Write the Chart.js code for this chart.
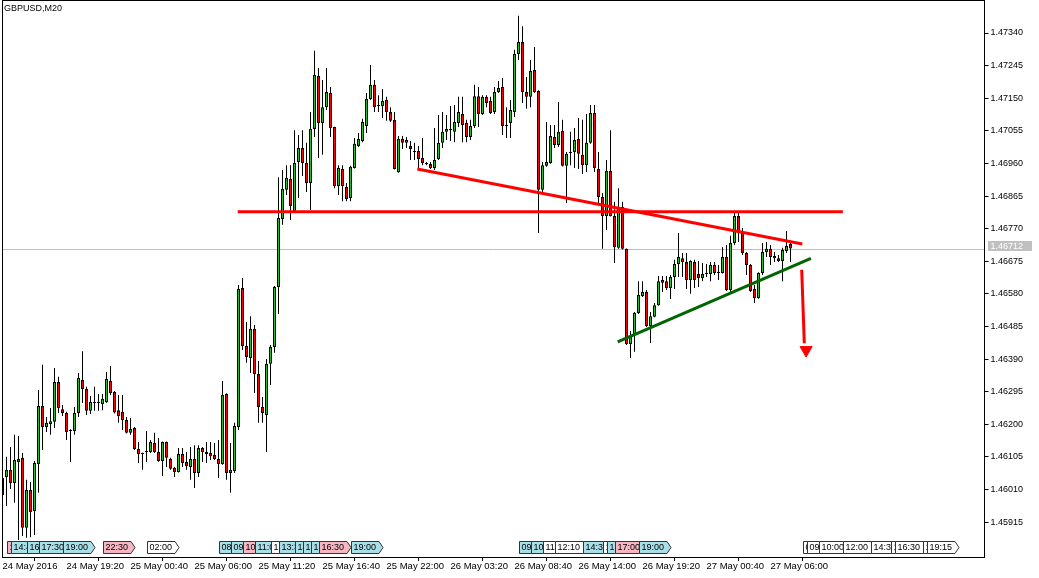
<!DOCTYPE html>
<html>
<head>
<meta charset="utf-8">
<script src="https://cdn.jsdelivr.net/npm/chart.js@4/dist/chart.umd.min.js"></script>
<style>
  html, body { margin: 0; padding: 0; background: #fff; }
  canvas { display: block; }
</style>
</head>
<body>
<canvas id="chart" width="1039" height="578"></canvas>
<script>
// GBPUSD M20 candles, bar 0 = 24 May 2016 14:00 (partly hidden at the left edge)
const opens = [1.46043,
  1.46046,1.46067,1.46029,1.46090,1.46102,1.45898,1.46008,1.45947,1.46084,1.46253,
  1.46192,1.46201,1.46207,1.46323,1.46244,1.46233,1.46180,1.46180,1.46233,1.46329,
  1.46303,1.46239,1.46262,1.46262,1.46259,1.46265,1.46326,1.46294,1.46241,1.46236,
  1.46212,1.46175,1.46189,1.46128,1.46116,1.46122,1.46119,1.46145,1.46119,1.46093,
  1.46148,1.46099,1.46073,1.46061,1.46113,1.46090,1.46075,1.46099,1.46058,1.46131,
  1.46119,1.46116,1.46110,1.46099,1.46084,1.46288,1.46058,1.46064,1.46192,1.46597,
  1.46428,1.46393,1.46478,1.46346,1.46250,1.46227,1.46376,1.46425,1.46600,1.46798,
  1.46883,1.46915,1.46819,1.46964,1.47005,1.46961,1.46903,1.47060,1.47215,1.47078,
  1.47124,1.47165,1.47066,1.46894,1.46944,1.46891,1.46859,1.46947,1.47011,1.47025,
  1.47069,1.47148,1.47189,1.47127,1.47127,1.47145,1.47110,1.47087,1.46935,1.47031,
  1.47020,1.47011,1.46996,1.46996,1.46976,1.46961,1.46958,1.46947,1.46973,1.47020,
  1.47052,1.47057,1.47052,1.47078,1.47104,1.47078,1.47037,1.47069,1.47156,1.47104,
  1.47154,1.47142,1.47110,1.47168,1.47183,1.47072,1.47078,1.47110,1.47279,1.47314,
  1.47168,1.47154,1.47232,1.47171,1.46883,1.46953,1.46961,1.47037,1.47014,1.47055,
  1.46953,1.46990,1.46993,1.47031,1.46985,1.46955,1.47020,1.47107,1.46944,1.46862,
  1.46807,1.46938,1.46807,1.46714,1.46833,1.46711,1.46434,1.46460,1.46524,1.46574,
  1.46585,1.46486,1.46513,1.46547,1.46620,1.46617,1.46597,1.46629,1.46667,1.46684,
  1.46673,1.46620,1.46673,1.46638,1.46626,1.46638,1.46638,1.46664,1.46644,1.46641,
  1.46687,1.46591,1.46728,1.46807,1.46757,1.46699,1.46664,1.46594,1.46568,1.46641,
  1.46702,1.46711,1.46690,1.46684,1.46676,1.46705,1.46725];

const highs = [1.46046,
  1.46105,1.46134,1.46169,1.46166,1.46116,1.46038,1.46032,1.46093,1.46300,1.46373,
  1.46221,1.46247,1.46364,1.46338,1.46256,1.46236,1.46185,1.46250,1.46349,1.46413,
  1.46309,1.46282,1.46309,1.46288,1.46288,1.46352,1.46370,1.46297,1.46285,1.46285,
  1.46221,1.46218,1.46192,1.46148,1.46117,1.46180,1.46154,1.46175,1.46160,1.46150,
  1.46150,1.46102,1.46075,1.46131,1.46131,1.46119,1.46134,1.46139,1.46139,1.46134,
  1.46148,1.46148,1.46145,1.46154,1.46326,1.46290,1.46145,1.46204,1.46606,1.46626,
  1.46498,1.46515,1.46489,1.46384,1.46279,1.46390,1.46431,1.46603,1.46920,1.46941,
  1.46955,1.46955,1.47057,1.47043,1.47057,1.47020,1.47110,1.47288,1.47238,1.47203,
  1.47238,1.47183,1.47067,1.46955,1.46955,1.46903,1.46953,1.47034,1.47049,1.47090,
  1.47165,1.47247,1.47203,1.47159,1.47177,1.47154,1.47124,1.47110,1.47040,1.47040,
  1.47037,1.47025,1.47020,1.47011,1.47034,1.46964,1.46964,1.47063,1.47101,1.47110,
  1.47101,1.47127,1.47130,1.47154,1.47154,1.47087,1.47087,1.47189,1.47183,1.47159,
  1.47159,1.47154,1.47183,1.47200,1.47209,1.47124,1.47145,1.47291,1.47390,1.47360,
  1.47212,1.47261,1.47299,1.47173,1.46964,1.47081,1.47072,1.47072,1.47139,1.47087,
  1.46993,1.47052,1.47063,1.47092,1.47087,1.47104,1.47130,1.47130,1.46993,1.46874,
  1.46970,1.47057,1.46848,1.46888,1.46848,1.46712,1.46472,1.46527,1.46617,1.46617,
  1.46591,1.46527,1.46553,1.46632,1.46632,1.46632,1.46635,1.46679,1.46757,1.46699,
  1.46699,1.46678,1.46679,1.46676,1.46670,1.46667,1.46673,1.46673,1.46664,1.46716,
  1.46722,1.46749,1.46816,1.46816,1.46772,1.46702,1.46667,1.46606,1.46643,1.46728,
  1.46731,1.46722,1.46702,1.46693,1.46714,1.46763,1.46728];

const lows = [1.45991,
  1.45962,1.46011,1.45971,1.45863,1.45874,1.45869,1.45871,1.45877,1.46000,1.46125,
  1.46177,1.46169,1.46189,1.46233,1.46224,1.46154,1.46090,1.46169,1.46221,1.46262,
  1.46227,1.46230,1.46239,1.46239,1.46241,1.46262,1.46285,1.46231,1.46204,1.46183,
  1.46173,1.46169,1.46125,1.46087,1.46067,1.46090,1.46116,1.46116,1.46091,1.46049,
  1.46075,1.46067,1.46046,1.46059,1.46075,1.46067,1.46038,1.46014,1.46046,1.46090,
  1.46087,1.46096,1.46096,1.46043,1.46082,1.46038,1.46000,1.46058,1.46183,1.46416,
  1.46379,1.46349,1.46291,1.46204,1.46204,1.46119,1.46314,1.46408,1.46521,1.46781,
  1.46868,1.46795,1.46816,1.46859,1.46923,1.46877,1.46824,1.47037,1.46976,1.46985,
  1.47116,1.47037,1.46888,1.46868,1.46850,1.46850,1.46850,1.46945,1.47008,1.47022,
  1.47049,1.47145,1.47110,1.47110,1.47092,1.47084,1.47081,1.46942,1.46933,1.47002,
  1.47005,1.46970,1.46970,1.46941,1.46955,1.46955,1.46944,1.46941,1.46970,1.47005,
  1.47028,1.47025,1.47022,1.47066,1.47022,1.47022,1.47028,1.47063,1.47066,1.47101,
  1.47124,1.47104,1.47104,1.47165,1.47043,1.47034,1.47034,1.47095,1.47261,1.47136,
  1.47119,1.47124,1.47166,1.46757,1.46877,1.46950,1.46959,1.47005,1.47008,1.46951,
  1.46845,1.46955,1.46947,1.46944,1.46929,1.46935,1.47017,1.46935,1.46839,1.46711,
  1.46766,1.46805,1.46670,1.46711,1.46709,1.46431,1.46393,1.46411,1.46521,1.46571,
  1.46483,1.46437,1.46512,1.46545,1.46585,1.46591,1.46565,1.46594,1.46629,1.46629,
  1.46594,1.46580,1.46597,1.46600,1.46617,1.46629,1.46617,1.46635,1.46620,1.46639,
  1.46588,1.46585,1.46722,1.46731,1.46693,1.46635,1.46585,1.46553,1.46566,1.46635,
  1.46687,1.46664,1.46673,1.46673,1.46617,1.46699,1.46673];

const closes = [1.45994,
  1.46067,1.46029,1.46096,1.46099,1.45898,1.46008,1.45944,1.46087,1.46253,1.46192,
  1.46204,1.46209,1.46323,1.46247,1.46233,1.46177,1.46183,1.46233,1.46335,1.46303,
  1.46239,1.46265,1.46265,1.46265,1.46274,1.46332,1.46291,1.46234,1.46224,1.46212,
  1.46175,1.46186,1.46128,1.46113,1.46113,1.46119,1.46148,1.46119,1.46093,1.46148,
  1.46102,1.46070,1.46061,1.46113,1.46087,1.46078,1.46099,1.46058,1.46131,1.46119,
  1.46113,1.46107,1.46099,1.46084,1.46285,1.46058,1.46067,1.46195,1.46594,1.46428,
  1.46396,1.46478,1.46346,1.46250,1.46233,1.46376,1.46425,1.46600,1.46801,1.46886,
  1.46918,1.46836,1.46961,1.47005,1.46961,1.46903,1.47060,1.47218,1.47078,1.47124,
  1.47168,1.47063,1.46894,1.46947,1.46894,1.46856,1.46950,1.47017,1.47031,1.47081,
  1.47148,1.47189,1.47124,1.47130,1.47142,1.47110,1.47084,1.46944,1.47031,1.47020,
  1.47028,1.47002,1.46993,1.46973,1.46961,1.46958,1.46947,1.46970,1.47020,1.47052,
  1.47060,1.47060,1.47081,1.47110,1.47072,1.47037,1.47069,1.47156,1.47104,1.47154,
  1.47136,1.47107,1.47168,1.47180,1.47069,1.47069,1.47116,1.47279,1.47314,1.47168,
  1.47154,1.47229,1.47168,1.46883,1.46955,1.46964,1.47040,1.47014,1.47052,1.46953,
  1.46988,1.46993,1.47028,1.46988,1.46955,1.47020,1.47107,1.46947,1.46862,1.46807,
  1.46938,1.46807,1.46716,1.46833,1.46711,1.46434,1.46457,1.46524,1.46577,1.46585,
  1.46486,1.46515,1.46547,1.46617,1.46612,1.46597,1.46629,1.46667,1.46687,1.46673,
  1.46620,1.46676,1.46620,1.46626,1.46638,1.46641,1.46664,1.46641,1.46641,1.46687,
  1.46591,1.46728,1.46807,1.46757,1.46699,1.46664,1.46588,1.46568,1.46641,1.46702,
  1.46711,1.46687,1.46684,1.46676,1.46708,1.46719,1.46712];

// axes
const yTicks = [1.45915,1.46010,1.46105,1.46200,1.46295,1.46390,1.46485,1.46580,
                1.46675,1.46770,1.46865,1.46960,1.47055,1.47150,1.47245,1.47340];
const tickLabels = ['24 May 2016','24 May 19:20','25 May 00:40','25 May 06:00','25 May 11:20',
  '25 May 16:40','25 May 22:00','26 May 03:20','26 May 08:40','26 May 14:00',
  '26 May 19:20','27 May 00:40','27 May 06:00'];
const barsPerTick = 16;
const lastPrice = 1.46712;

// drawn objects: [bar index, price]
const levelLine = [[58.8, 1.46819], [210.1, 1.46819]];
const upperTrend = [[103.7, 1.46944], [199.95, 1.46725]];
const lowerTrend = [[153.8, 1.46440], [202.1, 1.46683]];
const arrowShaft = [[199.8, 1.46650], [200.45, 1.46436]];
const arrowHead = [[200.9, 1.46416]];

// calendar events along the bottom: bar index, time text, colour kind
const eventBars = [1,2,6,9,15,25,36,54,57,60,63,67,69,73,75,77,79,87,
  129,132,135,138,145,150,151,153,159,200,201,204,210,217,222,223,230,231];
const eventTexts = ['14:15','14:45','16:00','17:30','19:00','22:30','02:00','08:00','09:00','10:00',
  '11:00','12:30','13:30','14:30','15:00','15:45','16:30','19:00','09:00','10:00','11:00','12:10',
  '14:30','16:00','16:15','17:00','19:00','08:30','09:00','10:00','12:00','14:30','16:00','16:30',
  '18:45','19:15'];
const eventKinds = ['p','c','c','c','c','p','w','c','c','p','c','w','c','c','c','c','p','c',
  'c','c','w','w','c','w','c','p','c','w','w','w','w','w','w','w','w','w'];

const FONT = 'Liberation Sans, Arial, sans-serif';
const BULL = '#22c322';
const BEAR = '#ff0000';
const EVENT_FILL = { c: '#a8dfe9', p: '#f7b6c1', w: '#ffffff' };

const toPts = arr => arr.map(([x, y]) => ({ x, y }));

const wicks = lows.map((l, i) => ({ x: i, y: [l, highs[i]] }));
const bodies = opens.map((o, i) => ({ x: i, y: [o, closes[i]] }));

const overlay = {
  id: 'overlay',
  beforeDatasetsDraw(chart) {
    const { ctx, chartArea: a, scales } = chart;
    const y = Math.round(scales.y.getPixelForValue(lastPrice)) + 0.5;
    ctx.save();
    ctx.strokeStyle = '#c0c0c0';
    ctx.lineWidth = 1;
    ctx.beginPath();
    ctx.moveTo(a.left, y);
    ctx.lineTo(a.right, y);
    ctx.stroke();
    ctx.restore();
  },
  afterDraw(chart) {
    const { ctx, chartArea: a, scales } = chart;
    ctx.save();

    // frame
    ctx.strokeStyle = '#000';
    ctx.lineWidth = 1;
    ctx.strokeRect(a.left, a.top + 0.5, a.right - a.left, a.bottom - a.top);

    // symbol title
    ctx.fillStyle = '#000';
    ctx.font = '9px ' + FONT;
    ctx.textBaseline = 'middle';
    ctx.textAlign = 'left';
    ctx.fillText('GBPUSD,M20', 4, 8.5);

    // last price box on the axis
    const py = Math.round(scales.y.getPixelForValue(lastPrice));
    ctx.fillStyle = '#c0c0c0';
    ctx.fillRect(a.right + 3.5, py - 8, 44, 10);
    ctx.fillStyle = '#fff';
    ctx.fillText(lastPrice.toFixed(5), a.right + 6, py - 2.5);

    // event labels
    const top = a.bottom - 15.5, bot = a.bottom - 3.5, mid = (top + bot) / 2;
    ctx.font = '9px ' + FONT;
    eventBars.forEach((b, k) => {
      const x0 = Math.round(scales.x.getPixelForValue(b)) + 0.5;
      const full = ctx.measureText(eventTexts[k]).width + 9;
      const next = k + 1 < eventBars.length ? Math.round(scales.x.getPixelForValue(eventBars[k + 1])) + 0.5 : Infinity;
      const cut = next < x0 + full;
      const x1 = cut ? next : Math.round(x0 + full);
      ctx.beginPath();
      if (cut) {
        ctx.rect(x0, top, x1 - x0, bot - top);
      } else {
        ctx.moveTo(x0, top);
        ctx.lineTo(x1 - 4, top);
        ctx.lineTo(x1, mid);
        ctx.lineTo(x1 - 4, bot);
        ctx.lineTo(x0, bot);
        ctx.closePath();
      }
      ctx.fillStyle = EVENT_FILL[eventKinds[k]];
      ctx.fill();
      ctx.strokeStyle = '#333';
      ctx.stroke();
      ctx.save();
      ctx.beginPath();
      ctx.rect(x0 + 1, top, x1 - x0 - 1.5, bot - top);
      ctx.clip();
      ctx.fillStyle = '#000';
      ctx.fillText(eventTexts[k], x0 + 2, mid + 0.5);
      ctx.restore();
    });

    ctx.restore();
  }
};

new Chart(document.getElementById('chart'), {
  type: 'bar',
  data: {
    datasets: [
      { type: 'line', data: toPts(levelLine), borderColor: '#ff0000', borderWidth: 3,
        pointRadius: 0, order: -1, clip: 0 },
      { type: 'line', data: toPts(upperTrend), borderColor: '#ff0000', borderWidth: 3,
        pointRadius: 0, order: -1, clip: 0 },
      { type: 'line', data: toPts(lowerTrend), borderColor: '#006400', borderWidth: 3,
        pointRadius: 0, order: -1, clip: 0 },
      { type: 'line', data: toPts(arrowShaft), borderColor: '#ff0000', borderWidth: 3,
        pointRadius: 0, order: -1, clip: 0 },
      { type: 'line', data: toPts(arrowHead), showLine: false, pointStyle: 'triangle',
        pointRotation: 180, pointRadius: 7, pointBackgroundColor: '#ff0000',
        pointBorderColor: '#ff0000', order: -1, clip: 0 },
      { type: 'bar', data: wicks, backgroundColor: '#000', borderWidth: 0, barThickness: 1,
        inflateAmount: 0, grouped: false, order: 1, clip: 0 },
      { type: 'bar', data: bodies, barThickness: 3, inflateAmount: 0, grouped: false,
        borderColor: '#000', borderWidth: 1, borderSkipped: false, order: 0, clip: 0,
        backgroundColor: ctx => (ctx.raw && ctx.raw.y[1] >= ctx.raw.y[0]) ? BULL : BEAR }
    ]
  },
  options: {
    responsive: false,
    animation: false,
    devicePixelRatio: 1,
    layout: { autoPadding: false, padding: { left: 2.5, top: 0, right: 0, bottom: 0 } },
    plugins: { legend: { display: false }, tooltip: { enabled: false } },
    scales: {
      x: {
        type: 'linear', min: 0, max: 245.5, offset: false,
        grid: { drawOnChartArea: false, tickLength: 4, color: '#000' },
        border: { display: false },
        afterBuildTicks: s => { s.ticks = tickLabels.map((t, j) => ({ value: j * barsPerTick })); },
        afterFit: s => { s.height = 21; s.paddingLeft = 0; s.paddingRight = 0; },
        ticks: {
          autoSkip: false, maxRotation: 0, minRotation: 0, align: 'start', padding: 0,
          color: '#000', font: { family: FONT, size: 9.5 },
          callback: (v, i) => tickLabels[i]
        }
      },
      y: {
        type: 'linear', position: 'right', min: 1.458131, max: 1.474362,
        grid: { drawOnChartArea: false, tickLength: 4, color: '#000' },
        border: { display: false },
        afterBuildTicks: s => { s.ticks = yTicks.map(v => ({ value: v })); },
        afterFit: s => { s.width = 54.5; s.paddingTop = 0; s.paddingBottom = 0; },
        ticks: {
          padding: 2, color: '#000', font: { family: FONT, size: 9 },
          callback: v => v.toFixed(5)
        }
      }
    }
  },
  plugins: [overlay]
});
</script>
</body>
</html>
